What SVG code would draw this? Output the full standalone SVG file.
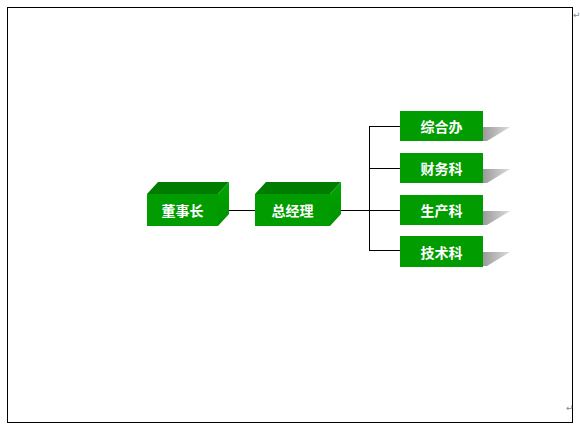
<svg xmlns="http://www.w3.org/2000/svg" width="580" height="430" viewBox="0 0 580 430">
<defs>
<linearGradient id="sh" x1="0" y1="0" x2="1" y2="0">
<stop offset="0" stop-color="#9a9a9a"/>
<stop offset="1" stop-color="#dcdcdc"/>
</linearGradient>
<linearGradient id="side" x1="0" y1="0" x2="0" y2="1">
<stop offset="0" stop-color="#00a800"/>
<stop offset="1" stop-color="#009000"/>
</linearGradient>
</defs>
<style>
.front{fill:#009c00}
.top{fill:#007d00}
.side{fill:url(#side)}
.box{fill:#009c00}
.shadow{fill:url(#sh)}
.t{font-family:"Noto Sans CJK SC","Noto Sans CJK JP",sans-serif;font-size:14px;font-weight:bold;fill:#ffffff;text-anchor:middle;dominant-baseline:central}
.ln{stroke:#000;stroke-width:1;fill:none}
.mark{font-family:"DejaVu Sans",sans-serif;font-size:9px;fill:#888}
</style>
<rect x="7.5" y="7.5" width="565" height="415" fill="#fff" stroke="#000" stroke-width="1"/>
<text class="mark" x="573" y="18">↵</text>
<text class="mark" x="566" y="411">↵</text>
<g id="connectors">
<line class="ln" x1="229" y1="210.5" x2="255" y2="210.5"/>
<line class="ln" x1="341" y1="210.5" x2="369.5" y2="210.5"/>
<line class="ln" x1="369.5" y1="126.5" x2="369.5" y2="250.5"/>
<line class="ln" x1="369" y1="126.5" x2="400" y2="126.5"/>
<line class="ln" x1="369" y1="168.5" x2="400" y2="168.5"/>
<line class="ln" x1="369" y1="210.5" x2="400" y2="210.5"/>
<line class="ln" x1="369" y1="250.5" x2="400" y2="250.5"/>
</g>
<g id="chairman">
<polygon class="top" points="147,194 158,182 229,182 218,194"/>
<polygon class="side" points="218,194 229,182 229,214 218,226"/>
<rect class="front" x="147" y="194" width="71" height="32"/>
<text class="t" x="182.5" y="210">董事长</text>
</g>
<g id="gm">
<polygon class="top" points="255,194 266,182 341,182 330,194"/>
<polygon class="side" points="330,194 341,182 341,214 330,226"/>
<rect class="front" x="255" y="194" width="75" height="32"/>
<text class="t" x="292.5" y="210">总经理</text>
</g>
<g id="office">
<polygon class="shadow" points="483,127 510,127 487,141 483,141"/>
<rect class="box" x="400" y="111" width="83" height="30"/>
<text class="t" x="441.5" y="126">综合办</text>
</g>
<g id="finance">
<polygon class="shadow" points="483,169 510,169 487,183 483,183"/>
<rect class="box" x="400" y="153" width="83" height="30"/>
<text class="t" x="441.5" y="168">财务科</text>
</g>
<g id="production">
<polygon class="shadow" points="483,211 510,211 487,225 483,225"/>
<rect class="box" x="400" y="195" width="83" height="30"/>
<text class="t" x="441.5" y="210">生产科</text>
</g>
<g id="tech">
<polygon class="shadow" points="483,252 510,252 487,266 483,266"/>
<rect class="box" x="400" y="236" width="83" height="31"/>
<text class="t" x="441.5" y="251.5">技术科</text>
</g>
</svg>
